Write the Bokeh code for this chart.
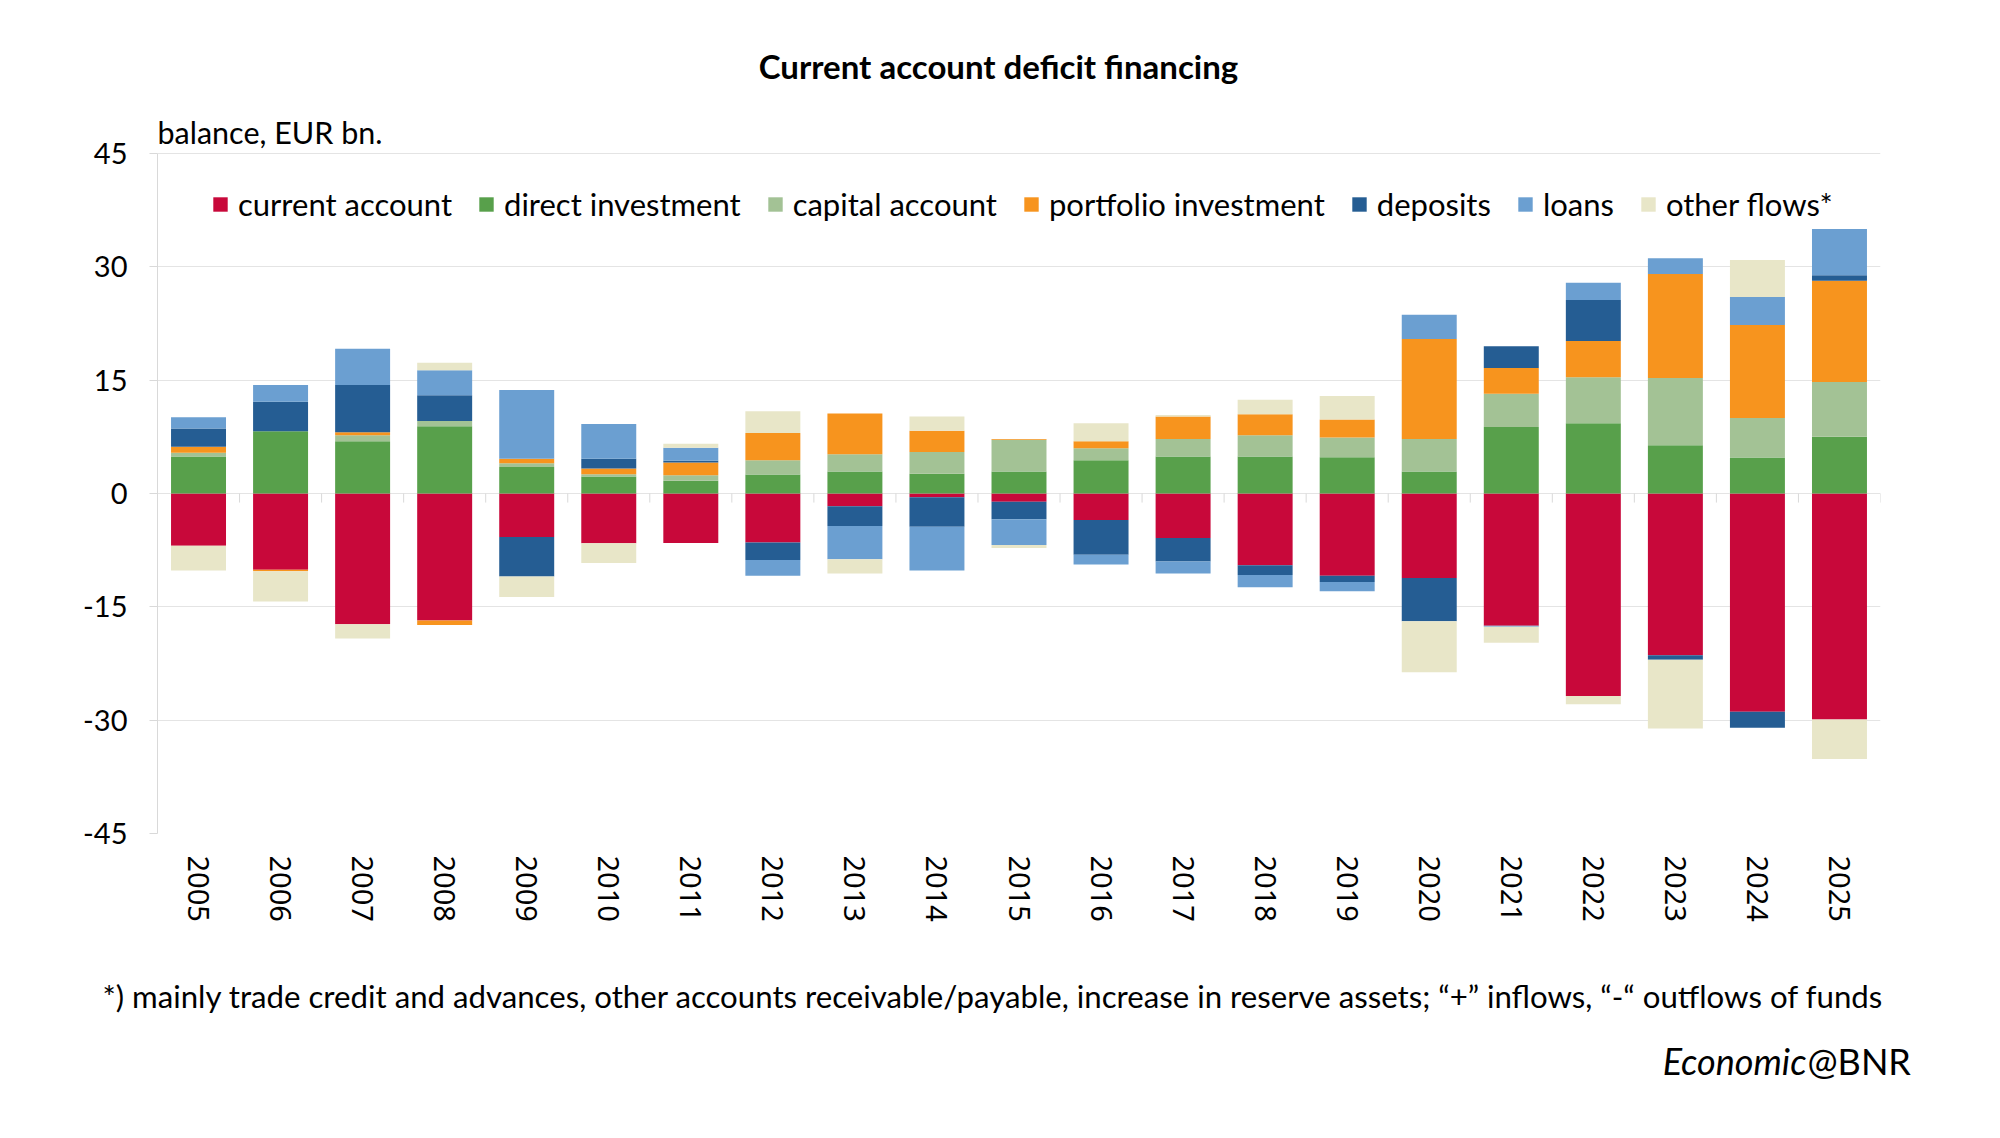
import numpy as np
from bokeh.plotting import figure
from bokeh.models import (Range1d, FactorRange, Label, Legend, LegendItem,
                          ColumnDataSource, FixedTicker)
from bokeh.embed import file_html
from bokeh.resources import INLINE

# ---------------- data (EUR bn.) ----------------
years = [str(y) for y in range(2005, 2026)]

current_account = [-6.9, -10.1, -17.3, -16.8, -5.75, -6.6, -6.55, -6.5, -1.7, -0.5, -1.1,
                   -3.5, -5.9, -9.5, -10.9, -11.2, -17.5, -26.8, -21.4, -28.9, -29.9]
direct_investment = [4.9, 8.25, 6.9, 8.9, 3.5, 2.25, 1.7, 2.5, 2.9, 2.6, 2.9,
                     4.4, 4.9, 4.9, 4.8, 2.9, 8.8, 9.3, 6.4, 4.75, 7.5]
capital_account = [0.5, 0.0, 0.8, 0.7, 0.5, 0.3, 0.7, 1.9, 2.3, 2.9, 4.2,
                   1.6, 2.3, 2.8, 2.6, 4.3, 4.4, 6.1, 8.9, 5.25, 7.25]
portfolio_investment = [0.8, -0.2, 0.4, -0.6, 0.6, 0.75, 1.7, 3.6, 5.4, 2.8, 0.1,
                        0.9, 3.0, 2.8, 2.4, 13.25, 3.4, 4.8, 13.75, 12.3, 13.4]
deposits = [2.4, 3.9, 6.25, 3.4, -5.25, 1.3, 0.25, -2.3, -2.6, -3.9, -2.3,
            -4.6, -3.1, -1.3, -0.8, -5.7, 2.9, 5.4, -0.6, -2.1, 0.75]
loans = [1.5, 2.2, 4.8, 3.3, 9.1, 4.6, 1.7, -2.1, -4.4, -5.8, -3.4,
         -1.3, -1.6, -1.6, -1.25, 3.2, -0.15, 2.3, 2.1, 3.7, 6.1]
other_flows = [-3.3, -4.0, -1.9, 1.0, -2.7, -2.6, 0.55, 2.9, -1.9, 1.9, -0.4,
               2.4, 0.2, 1.9, 3.1, -6.75, -2.1, -1.1, -9.1, 4.9, -5.25]

series_names = ["current account", "direct investment", "capital account",
                "portfolio investment", "deposits", "loans", "other flows*"]
series_values = [current_account, direct_investment, capital_account,
                 portfolio_investment, deposits, loans, other_flows]
series_colors = ["#C8083A", "#58A04B", "#A3C295", "#F7941E", "#255D93", "#6B9FD1", "#E8E6C8"]

y_ticks = [-45, -30, -15, 0, 15, 30, 45]
y_tick_labels = {t: str(t) for t in y_ticks}   # plain hyphen minus as in the original

title_text = "Current account deficit financing"
unit_text = "balance, EUR bn."
note_text = ("*) mainly trade credit and advances, other accounts receivable/payable, "
             "increase in reserve assets; \u201c+\u201d inflows, \u201c-\u201c outflows of funds")

# ---------------- layout constants (pixels) ----------------
W = 1984
FRAME_LEFT, FRAME_RIGHT = 157, 1880
FRAME_BOTTOM = 833                 # y = -45
PX_PER_UNIT = 340 / 45.0           # 45 units = 340 px
Y_TOP = -45 + FRAME_BOTTOM / PX_PER_UNIT   # frame reaches the canvas top
MAIN_H = 940
FOOT_H = 182
BASE_FIX = 12                      # baseline correction for labels

# ---------------- main figure ----------------
p = figure(width=W, height=MAIN_H,
           x_range=FactorRange(factors=years, range_padding=0),
           y_range=Range1d(-45, Y_TOP),
           output_backend="svg", toolbar_location=None,
           min_border_left=FRAME_LEFT, min_border_right=W - FRAME_RIGHT,
           min_border_top=0, min_border_bottom=MAIN_H - FRAME_BOTTOM)
p.outline_line_color = None
p.background_fill_color = "white"
p.border_fill_color = "white"

n = len(years)
pos_base = np.zeros(n)
neg_base = np.zeros(n)
items = []
for name, vals, col in zip(series_names, series_values, series_colors):
    v = np.array(vals, dtype=float)
    bottom = np.where(v >= 0, pos_base, neg_base + v)
    top = np.where(v >= 0, pos_base + v, neg_base)
    pos_base = pos_base + np.where(v > 0, v, 0)
    neg_base = neg_base + np.where(v < 0, v, 0)
    src = ColumnDataSource(dict(x=years, bottom=bottom, top=top))
    r = p.vbar(x="x", bottom="bottom", top="top", width=0.67, source=src,
               fill_color=col, line_color=None)
    items.append(LegendItem(label=name, renderers=[r]))

# category separator ticks below the zero line
bounds = list(range(1, n + 1))
p.segment(x0=bounds, y0=[0] * len(bounds), x1=bounds, y1=[-1.2] * len(bounds),
          line_color="#d9d9d9", line_width=1)

p.yaxis.ticker = FixedTicker(ticks=y_ticks)
p.yaxis.major_label_overrides = y_tick_labels
p.yaxis.bounds = (-45, 45)
p.yaxis.axis_line_color = "#d9d9d9"
p.yaxis.major_tick_line_color = "#d9d9d9"
p.yaxis.major_tick_out = 8
p.yaxis.major_tick_in = 0
p.yaxis.minor_tick_line_color = None
p.yaxis.major_label_standoff = 22
p.yaxis.major_label_text_font = "Lato"
p.yaxis.major_label_text_font_size = "29px"
p.yaxis.major_label_text_color = "#000000"

p.xaxis.axis_line_color = None
p.xaxis.major_tick_line_color = None
p.xaxis.major_tick_out = 0
p.xaxis.major_tick_in = 0
p.xaxis.major_label_orientation = "vertical"
p.xaxis.major_label_standoff = 22
p.xaxis.major_label_text_font = "Noto Sans"
p.xaxis.major_label_text_font_size = "29px"
p.xaxis.major_label_text_color = "#000000"

p.xgrid.grid_line_color = None
p.ygrid.grid_line_color = "#e4e4e4"
p.ygrid.grid_line_width = 1

legend = Legend(items=items, orientation="horizontal", location=(54, 610),
                glyph_width=18, glyph_height=18, label_standoff=9, spacing=25,
                padding=0, margin=0, border_line_color=None, background_fill_alpha=0,
                label_text_font="Lato", label_text_font_size="31px",
                label_text_color="#000000")
p.add_layout(legend, "center")

# title and unit (inside the frame area above the 45 gridline); screen units from frame bottom-left
p.add_layout(Label(x=998 - FRAME_LEFT, y=FRAME_BOTTOM - 77 + BASE_FIX,
                   x_units="screen", y_units="screen",
                   text=title_text, text_align="center", text_baseline="alphabetic",
                   text_font="Lato", text_font_style="bold", text_font_size="33px",
                   text_color="#000000"))
p.add_layout(Label(x=0, y=FRAME_BOTTOM - 143 + BASE_FIX, x_units="screen", y_units="screen",
                   text=unit_text, text_align="left", text_baseline="alphabetic",
                   text_font="Lato", text_font_size="30.5px", text_color="#000000"))

# ---------------- footer figure (separate root) ----------------
f = figure(width=W, height=FOOT_H, x_range=Range1d(0, W), y_range=Range1d(0, FOOT_H),
           output_backend="svg", toolbar_location=None,
           x_axis_location=None, y_axis_location=None, min_border=0)
f.outline_line_color = None
f.xgrid.grid_line_color = None
f.ygrid.grid_line_color = None
f.background_fill_color = "white"
f.border_fill_color = "white"

foot_bottom = MAIN_H + FOOT_H
f.add_layout(Label(x=102, y=foot_bottom - 1007 + BASE_FIX, text=note_text,
                   text_align="left", text_baseline="alphabetic",
                   text_font="Lato", text_font_size="31.2px", text_color="#000000"))
f.add_layout(Label(x=1806, y=foot_bottom - 1072 + BASE_FIX, text="Economic",
                   text_align="right", text_baseline="alphabetic",
                   text_font="Lato", text_font_style="italic", text_font_size="36px",
                   text_color="#000000"))
f.add_layout(Label(x=1807, y=foot_bottom - 1072 + BASE_FIX, text="@BNR",
                   text_align="left", text_baseline="alphabetic",
                   text_font="Lato", text_font_size="36px", text_color="#000000"))

open("out.html", "w").write(file_html([p, f], INLINE))
